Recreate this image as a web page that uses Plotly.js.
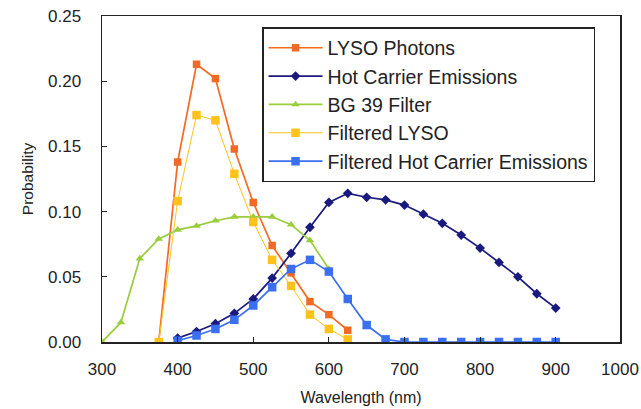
<!DOCTYPE html>
<html><head><meta charset="utf-8">
<script src="https://cdn.plot.ly/plotly-3.0.1.min.js"></script>
<style>html,body{margin:0;padding:0;background:#fff;}#chart{width:641px;height:409px;}</style>
</head><body><div id="chart"></div>
<script>
const lysoX = [375,400,425,450,475,500,525,550,575,600,625];
const lysoY = [0,0.138,0.213,0.202,0.148,0.107,0.074,0.053,0.031,0.021,0.009];
const hotX = [400,425,450,475,500,525,550,575,600,625,650,675,700,725,750,775,800,825,850,875,900];
const hotY = [0.003,0.008,0.014,0.022,0.033,0.049,0.068,0.088,0.107,0.114,0.111,0.109,0.105,0.098,0.091,0.082,0.072,0.061,0.050,0.037,0.026];
const bgX = [300,325,350,375,400,425,450,475,500,525,550,575,600];
const bgY = [0,0.015,0.064,0.079,0.086,0.089,0.093,0.096,0.096,0.096,0.090,0.078,0.056];
const fLysoX = [375,400,425,450,475,500,525,550,575,600,625];
const fLysoY = [0,0.108,0.174,0.170,0.129,0.092,0.063,0.043,0.021,0.010,0.002];
const fHotX = [400,425,450,475,500,525,550,575,600,625,650,675,700,725,750,775,800,825,850,875,900];
const fHotY = [0.001,0.005,0.010,0.017,0.028,0.042,0.056,0.063,0.054,0.033,0.013,0.002,0,0,0,0,0,0,0,0,0];
// The source chart's last label "1000" sits at the right end of the axis (about 985 on its linear scale)
const xTickVals = [300,400,500,600,700,800,900,985];
const xTickText = ['300','400','500','600','700','800','900','1000'];
const yTicks = [0,0.05,0.10,0.15,0.20,0.25];
const yTickText = ['0.00','0.05','0.10','0.15','0.20','0.25'];

function tr(x,y,name,color,symbol,size,lw,g){
  return {x:x,y:y,name:name,type:'scatter',mode:'lines+markers',legendgroup:g,
    line:{color:color,width:lw},marker:{color:color,symbol:symbol,size:size}};
}
const data = [
  tr(lysoX,lysoY,'LYSO Photons','#F26A24','square',7.5,1.7,'a'),
  tr(hotX,hotY,'Hot Carrier Emissions','#1A1A7E','diamond',7.5,1.7,'b'),
  tr(bgX,bgY,'BG 39 Filter','#9ACD3C','triangle-up',7.5,1.7,'c'),
  tr(fLysoX,fLysoY,'Filtered LYSO','#FFC21A','square',8.5,1,'d'),
  tr(fHotX,fHotY,'Filtered Hot Carrier Emissions','#3A6FF0','square',8.5,1.7,'e')
];
const FF = "'Liberation Sans', Arial, sans-serif";
const layout = {
  width:641,height:409,
  margin:{l:102,r:21,t:16,b:67},
  paper_bgcolor:'#fff',plot_bgcolor:'#fff',
  font:{family:FF,color:'#222',size:16},
  showlegend:true,
  legend:{x:0.309,y:0.966,xanchor:'left',yanchor:'top',bgcolor:'#fff',bordercolor:'#222',borderwidth:1.5,
    font:{family:FF,size:19.5,color:'#222'},tracegroupgap:0,itemwidth:54,entrywidth:346,entrywidthmode:'pixels'},
  xaxis:{range:[300,985],tickvals:xTickVals,ticktext:xTickText,showgrid:false,zeroline:false,
    showline:true,linecolor:'#222',linewidth:1.5,mirror:true,ticks:'inside',ticklen:5,tickcolor:'#222',
    ticklabelstandoff:11,
    tickfont:{family:FF,size:17},title:{text:'Wavelength (nm)',font:{family:FF,size:16},standoff:14}},
  yaxis:{range:[0,0.25],tickvals:yTicks,ticktext:yTickText,showgrid:false,zeroline:false,
    showline:true,linecolor:'#222',linewidth:1.5,mirror:true,ticks:'inside',ticklen:5,tickcolor:'#222',
    ticklabelstandoff:16,
    tickfont:{family:FF,size:17},title:{text:'Probability',font:{family:FF,size:15.5},standoff:10}}
};
Plotly.newPlot('chart',data,layout,{displayModeBar:false,staticPlot:true});
</script></body></html>
